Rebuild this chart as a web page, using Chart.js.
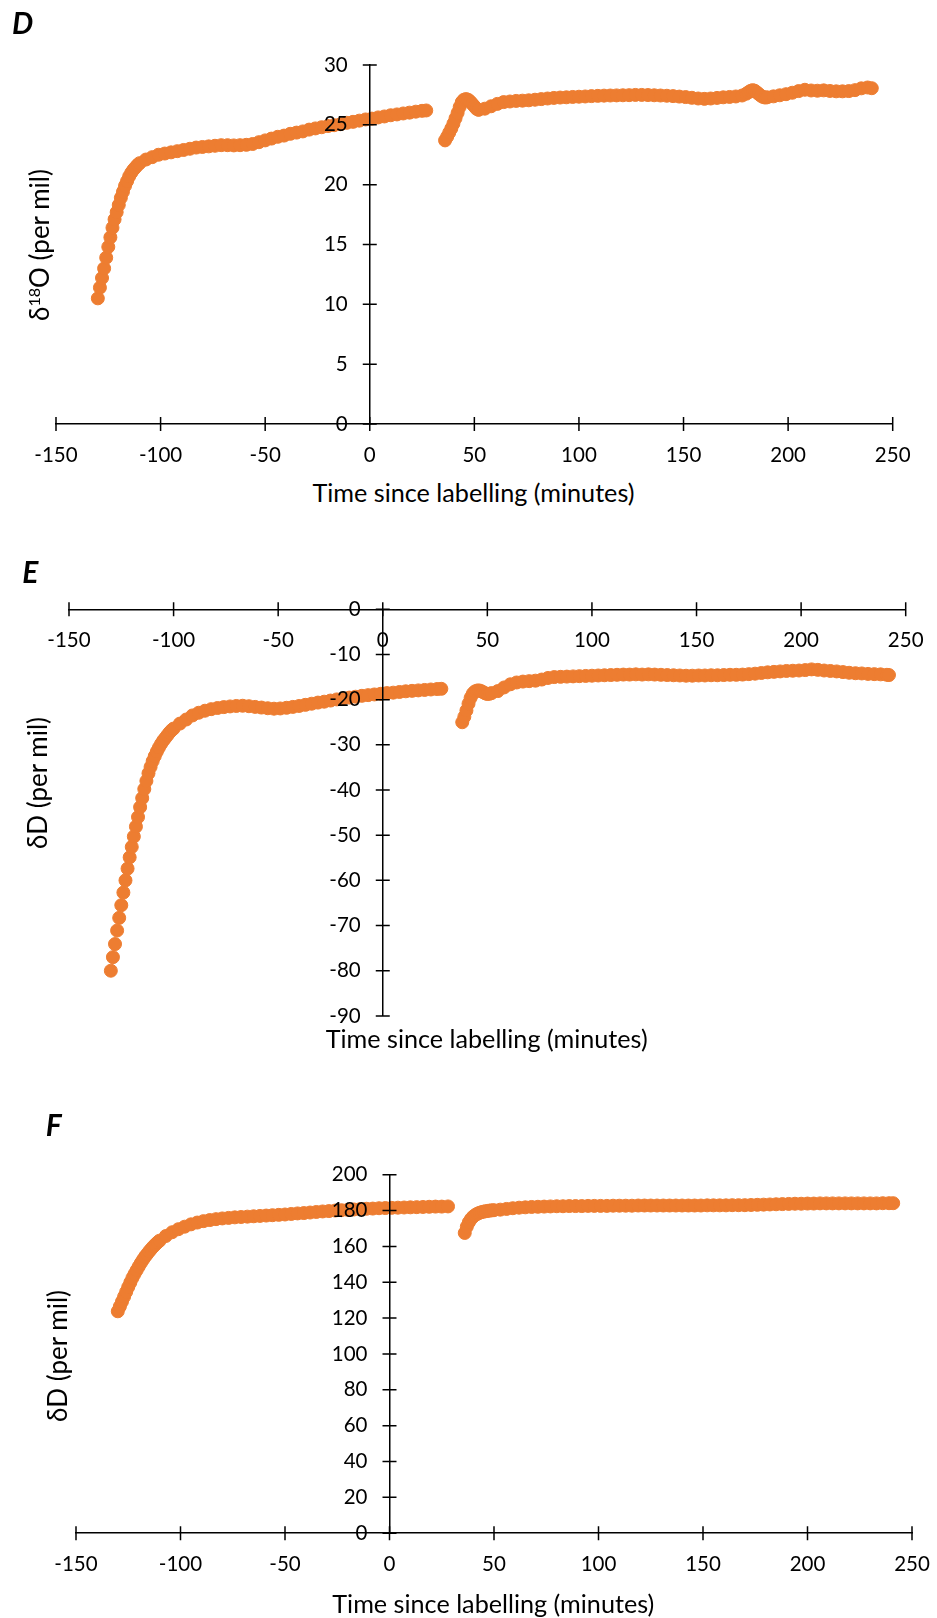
<!DOCTYPE html>
<html>
<head>
<meta charset="utf-8">
<title>Isotope time courses</title>
<script src="https://cdn.jsdelivr.net/npm/chart.js@4.4.1/dist/chart.umd.min.js"></script>
<style>
  html, body { margin: 0; padding: 0; background: #fff; }
  #page { position: relative; width: 937px; height: 1618px; overflow: hidden;
          font-family: Lato, "Noto Sans", sans-serif; color: #000; }
  #page canvas { position: absolute; left: 0; }
  .lbl { position: absolute; white-space: nowrap; line-height: 1;
         transform: translate(-50%, -50%); }
  .panel { font-size: 30px; font-weight: bold; font-style: italic; }
  .xt { font-size: 25.2px; }
  .yt { font-size: 26px; transform: translate(-50%, -50%) rotate(-90deg); }
  .yt sup { font-size: 0.62em; vertical-align: 0.55em; line-height: 0; }
</style>
</head>
<body>
<div id="page">
  <canvas id="chartD" width="937" height="470" style="top:0px"></canvas>
  <canvas id="chartE" width="937" height="505" style="top:540px"></canvas>
  <canvas id="chartF" width="937" height="538" style="top:1080px"></canvas>

  <div class="lbl panel" style="left:22.5px; top:21.5px">D</div>
  <div class="lbl panel" style="left:30.3px; top:571.3px">E</div>
  <div class="lbl panel" style="left:53.8px; top:1123.7px">F</div>

  <div class="lbl xt" style="left:473.5px; top:493.3px">Time since labelling (minutes)</div>
  <div class="lbl xt" style="left:486.7px; top:1038.6px">Time since labelling (minutes)</div>
  <div class="lbl xt" style="left:493.3px; top:1603.9px">Time since labelling (minutes)</div>

  <div class="lbl yt" style="left:38.5px; top:245px">δ<sup>18</sup>O (per mil)</div>
  <div class="lbl yt" style="left:37px; top:782.5px">δD (per mil)</div>
  <div class="lbl yt" style="left:57px; top:1356.2px">δD (per mil)</div>
</div>

<script>
// ---- tick values ----
const xTickValues = [-150, -100, -50, 0, 50, 100, 150, 200, 250];
const yTicksD = [0, 5, 10, 15, 20, 25, 30];
const yTicksE = [-90, -80, -70, -60, -50, -40, -30, -20, -10, 0];
const yTicksF = [0, 20, 40, 60, 80, 100, 120, 140, 160, 180, 200];

// ---- panel D: delta 18O, before and after labelling ----
const timeD1 = [-130, -129, -128, -127, -126, -125, -124, -123, -122, -121, -120, -119, -118, -117, -116, -115, -114, -113, -112, -111, -110,
  -107, -104, -101, -98, -95, -92, -89, -86, -83, -80, -77, -74, -71, -68, -65, -62, -59, -56, -53, -50, -47, -44, -41, -38, -35, -32, -29,
  -26, -23, -20, -17, -14, -11, -8, -5, -2, 1, 4, 7, 10, 13, 16, 19, 22, 25, 27];
const o18D1 = [10.5, 11.4, 12.2, 13.0, 13.9, 14.8, 15.6, 16.4, 17.1, 17.7, 18.3, 18.9, 19.4, 19.9, 20.3, 20.7, 21.0, 21.25, 21.45, 21.65, 21.8,
  22.1, 22.3, 22.5, 22.6, 22.7, 22.8, 22.9, 23.0, 23.1, 23.15, 23.2, 23.25, 23.3, 23.3, 23.28, 23.3, 23.33, 23.4, 23.55, 23.7, 23.85, 24.0, 24.1, 24.25, 24.35, 24.45, 24.6,
  24.7, 24.8, 24.9, 24.97, 25.05, 25.17, 25.25, 25.35, 25.45, 25.52, 25.62, 25.7, 25.8, 25.87, 25.95, 26.02, 26.1, 26.17, 26.2];
const timeD2 = [36, 37, 38, 39, 40, 41, 42, 43, 44, 45, 46, 47, 48, 49, 50, 51, 52,
  55, 58, 61, 64, 67, 70, 73, 76, 79, 82, 85, 88, 91, 94, 97, 100, 103, 106, 109, 112, 115, 118, 121, 124, 127, 130, 133, 136, 139, 142,
  145, 148, 151, 154, 157, 160, 163, 166, 169, 172, 175, 178,
  180, 181, 182, 183, 184, 185, 186, 187, 188, 189, 190,
  193, 196, 199, 202, 205, 208, 211, 214, 217, 220, 223, 226, 229, 232, 235, 238, 240];
const o18D2 = [23.7, 24.0, 24.35, 24.7, 25.1, 25.55, 26.0, 26.5, 26.9, 27.1, 27.15, 27.1, 26.95, 26.75, 26.55, 26.35, 26.25,
  26.35, 26.55, 26.75, 26.9, 26.95, 27.0, 27.02, 27.05, 27.1, 27.15, 27.2, 27.25, 27.28, 27.3, 27.33, 27.35, 27.37, 27.4, 27.42, 27.44, 27.45, 27.46, 27.47, 27.48, 27.5, 27.5, 27.49, 27.47, 27.45, 27.43,
  27.4, 27.36, 27.32, 27.26, 27.2, 27.17, 27.2, 27.25, 27.3, 27.33, 27.37, 27.45,
  27.6, 27.72, 27.83, 27.9, 27.85, 27.72, 27.57, 27.43, 27.33, 27.28, 27.3,
  27.38, 27.47, 27.56, 27.68, 27.82, 27.93, 27.87, 27.85, 27.88, 27.83, 27.8, 27.8, 27.82, 27.9, 28.05, 28.12, 28.06];

// ---- panel E: delta D (first run) ----
const timeE1 = [-130, -129, -128, -127, -126, -125, -124, -123, -122, -121, -120, -119, -118, -117, -116, -115, -114, -113, -112, -111, -110,
  -109, -108, -107, -106, -105, -104, -103, -102, -101, -100,
  -97, -94, -91, -88, -85, -82, -79, -76, -73, -70, -67, -64, -61, -58, -55, -52, -49, -46, -43, -40, -37, -34, -31, -28, -25, -22,
  -19, -16, -13, -10, -7, -4, -1, 2, 5, 8, 11, 14, 17, 20, 23, 26, 28];
const dDE1 = [-80.0, -77.0, -74.1, -71.1, -68.3, -65.5, -62.7, -60.0, -57.4, -54.9, -52.6, -50.3, -48.1, -46.0, -43.8, -41.8, -39.8, -38.0, -36.3, -34.9, -33.6,
  -32.5, -31.5, -30.6, -29.8, -29.1, -28.5, -27.9, -27.3, -26.8, -26.4,
  -25.3, -24.4, -23.5, -22.9, -22.45, -22.1, -21.85, -21.65, -21.5, -21.4, -21.35, -21.45, -21.6, -21.75, -21.9, -22.0, -21.95, -21.8, -21.6, -21.4, -21.15, -20.9, -20.65, -20.45, -20.2, -19.95,
  -19.75, -19.55, -19.35, -19.15, -19.0, -18.85, -18.7, -18.55, -18.45, -18.3, -18.15, -18.05, -17.95, -17.85, -17.75, -17.65, -17.6];
const timeE2 = [38, 39, 40, 41, 42, 43, 44, 45, 46, 47, 48, 49, 50, 51, 52,
  55, 58, 61, 64, 67, 70, 73, 76, 79, 82, 85, 88, 91, 94, 97, 100, 103, 106, 109, 112, 115, 118, 121, 124, 127, 130, 133, 136, 139, 142,
  145, 148, 151, 154, 157, 160, 163, 166, 169, 172, 175, 178, 181, 184, 187, 190, 193, 196, 199, 202, 205, 208, 211, 214, 217, 220,
  223, 226, 229, 232, 235, 238, 241, 242];
const dDE2 = [-25.0, -23.8, -22.4, -20.9, -19.6, -18.7, -18.2, -18.0, -17.95, -18.1, -18.35, -18.6, -18.75, -18.7, -18.55,
  -18.1, -17.3, -16.6, -16.2, -16.0, -15.9, -15.8, -15.55, -15.2, -15.0, -14.95, -14.9, -14.85, -14.8, -14.75, -14.7, -14.65, -14.6, -14.55, -14.5, -14.45, -14.45, -14.4, -14.45, -14.4, -14.45, -14.5, -14.55, -14.6, -14.65,
  -14.7, -14.7, -14.65, -14.65, -14.6, -14.6, -14.55, -14.5, -14.5, -14.45, -14.35, -14.25, -14.1, -13.95, -13.85, -13.75, -13.65, -13.6, -13.55, -13.45, -13.3, -13.4, -13.55, -13.65, -13.75, -13.9,
  -14.05, -14.15, -14.2, -14.3, -14.35, -14.4, -14.5, -14.55];

// ---- panel F: delta D (second run) ----
const timeF1 = [-130, -129, -128, -127, -126, -125, -124, -123, -122, -121, -120, -119, -118, -117, -116, -115, -114, -113, -112, -111, -110,
  -107, -104, -101, -98, -95, -92, -89, -86, -83, -80, -77, -74, -71, -68, -65, -62, -59, -56, -53, -50, -47, -44, -41, -38, -35, -32, -29,
  -26, -23, -20, -17, -14, -11, -8, -5, -2, 1, 4, 7, 10, 13, 16, 19, 22, 25, 28];
const dDF1 = [123.8, 126.5, 129.2, 131.9, 134.6, 137.3, 139.9, 142.4, 144.6, 146.7, 148.7, 150.7, 152.5, 154.2, 155.7, 157.2, 158.6, 159.9, 161.1, 162.2, 163.2,
  165.8, 167.9, 169.6, 171.0, 172.3, 173.3, 174.1, 174.7, 175.2, 175.6, 175.9, 176.2, 176.4, 176.6, 176.8, 177.0, 177.2, 177.4, 177.6, 177.8, 178.1, 178.4, 178.6, 178.9, 179.2, 179.5, 179.7,
  180.0, 180.2, 180.4, 180.6, 180.8, 181.0, 181.1, 181.3, 181.4, 181.5, 181.6, 181.7, 181.8, 181.9, 182.0, 182.1, 182.2, 182.2, 182.3];
const timeF2 = [36, 37, 38, 39, 40, 41, 42, 43, 44, 45, 46, 47, 48, 49, 50,
  53, 56, 59, 62, 65, 68, 71, 74, 77, 80, 83, 86, 89, 92, 95, 98, 101, 104, 107, 110, 113, 116, 119, 122, 125, 128, 131, 134, 137, 140,
  143, 146, 149, 152, 155, 158, 161, 164, 167, 170, 173, 176, 179, 182, 185, 188, 191, 194, 197, 200, 203, 206, 209, 212, 215, 218,
  221, 224, 227, 230, 233, 236, 239, 241];
const dDF2 = [167.5, 171.0, 173.5, 175.3, 176.6, 177.5, 178.2, 178.7, 179.1, 179.4, 179.6, 179.8, 180.0, 180.1, 180.2,
  180.5, 180.9, 181.3, 181.6, 181.8, 182.0, 182.1, 182.2, 182.3, 182.4, 182.4, 182.5, 182.5, 182.5, 182.6, 182.6, 182.6, 182.6, 182.7, 182.7, 182.7, 182.7, 182.8, 182.8, 182.8, 182.8, 182.8, 182.8, 182.8, 182.8,
  182.8, 182.8, 182.8, 182.9, 182.9, 182.9, 182.9, 183.0, 183.0, 183.0, 183.1, 183.2, 183.3, 183.4, 183.5, 183.6, 183.7, 183.8, 183.8, 183.9, 183.9, 184.0, 184.0, 184.0, 184.0, 184.0,
  184.0, 184.0, 184.0, 184.0, 184.0, 184.1, 184.1, 184.1];

// ---- drawing ----
const ORANGE = '#ED7D31';
const TICK_FONT = { family: 'Lato', size: 20.5 };
// distance from the axis line to the tick labels (x: to label centre, y: to label right edge)
const LABEL_GAP = { x: 31.3, y: 22 };

// Linear scale whose labels sit a fixed distance from the axis line
// when the axis is placed at the zero of the other scale.
class CrossLinearScale extends Chart.LinearScale {
  _computeLabelItems(chartArea) {
    const items = super._computeLabelItems(chartArea);
    const horizontal = this.isHorizontal();
    const other = this.chart.scales[horizontal ? 'y' : 'x'];
    const at = other.getPixelForValue(0);
    for (const it of items) {
      const o = it.options;
      if (!o || !o.translation) continue;
      if (horizontal) {
        o.translation[1] = at + LABEL_GAP.x;
        o.textBaseline = 'middle';
        it.textOffset = 0;
      } else {
        o.translation[0] = at - LABEL_GAP.y;
        o.textAlign = 'right';
      }
    }
    return items;
  }
}
CrossLinearScale.id = 'crossLinear';
Chart.register(CrossLinearScale);

// Tick marks that cross the axis line on both sides.
const crossTicks = {
  id: 'crossTicks',
  afterDraw(chart) {
    const { ctx, scales: { x, y } } = chart;
    const x0 = x.getPixelForValue(0);
    const y0 = y.getPixelForValue(0);
    const half = 7;
    ctx.save();
    ctx.strokeStyle = '#000';
    ctx.lineWidth = 1.5;
    ctx.beginPath();
    x.ticks.forEach(t => {
      const px = x.getPixelForValue(t.value);
      ctx.moveTo(px, y0 - half);
      ctx.lineTo(px, y0 + half);
    });
    y.ticks.forEach(t => {
      const py = y.getPixelForValue(t.value);
      ctx.moveTo(x0 - half, py);
      ctx.lineTo(x0 + half, py);
    });
    ctx.stroke();
    ctx.restore();
  }
};

function zip(ts, vs) {
  return ts.map((t, i) => ({ x: t, y: vs[i] }));
}

function axis(dim, min, max, tickValues) {
  return {
    type: 'crossLinear',
    position: dim === 'x' ? { y: 0 } : { x: 0 },
    min: min,
    max: max,
    afterBuildTicks: s => { s.ticks = tickValues.map(v => ({ value: v })); },
    grid: { display: false, drawTicks: false },
    border: { display: true, color: '#000', width: 1.5, z: 1 },
    ticks: { padding: 0, z: 1, color: '#000', font: TICK_FONT, autoSkip: false, maxRotation: 0 }
  };
}

function panel(id, canvasTop, canvasH, area, points, yMin, yMax, yTicks) {
  return new Chart(document.getElementById(id), {
    type: 'scatter',
    data: {
      datasets: [{
        data: points,
        backgroundColor: ORANGE,
        borderColor: ORANGE,
        pointRadius: 6.5,
        pointBorderWidth: 1,
        pointHoverRadius: 6.5
      }]
    },
    options: {
      responsive: false,
      animation: false,
      devicePixelRatio: 1,
      events: [],
      layout: {
        padding: {
          left: area.left,
          right: 937 - area.right,
          top: area.top - canvasTop,
          bottom: canvasTop + canvasH - area.bottom
        }
      },
      plugins: { legend: { display: false }, tooltip: { enabled: false } },
      scales: {
        x: axis('x', -150, 250, xTickValues),
        y: axis('y', yMin, yMax, yTicks)
      }
    },
    plugins: [crossTicks]
  });
}

panel('chartD', 0, 470, { left: 56, right: 892.7, top: 65, bottom: 424 },
  zip(timeD1, o18D1).concat(zip(timeD2, o18D2)), 0, 30, yTicksD);
panel('chartE', 540, 505, { left: 69, right: 905.7, top: 609.3, bottom: 1015.9 },
  zip(timeE1, dDE1).concat(zip(timeE2, dDE2)), -90, 0, yTicksE);
panel('chartF', 1080, 538, { left: 76, right: 912, top: 1174.7, bottom: 1533.2 },
  zip(timeF1, dDF1).concat(zip(timeF2, dDF2)), 0, 200, yTicksF);
</script>
</body>
</html>
